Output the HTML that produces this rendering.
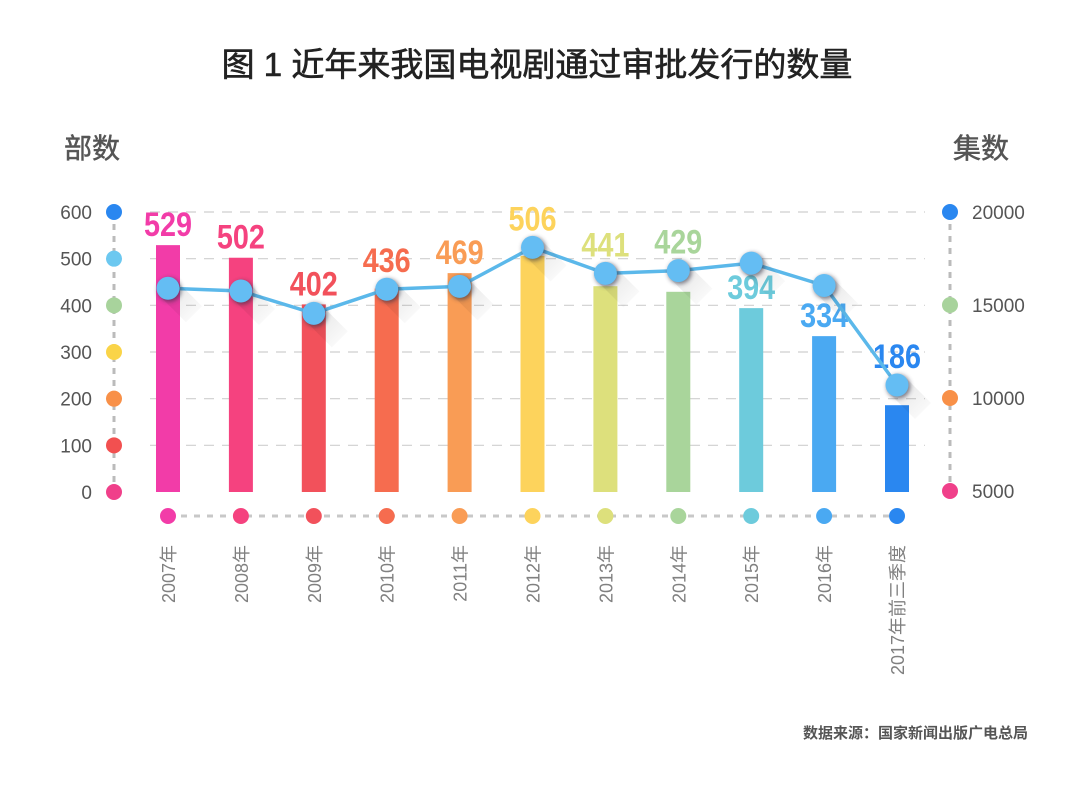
<!DOCTYPE html>
<html><head><meta charset="utf-8">
<style>
html,body{margin:0;padding:0;background:#fff;}
body{width:1080px;height:793px;overflow:hidden;font-family:"Liberation Sans","Noto Sans CJK SC",sans-serif;}
svg text{font-family:"Liberation Sans","Noto Sans CJK SC",sans-serif;}
</style></head>
<body>
<svg id="chart" width="1080" height="793">
<defs>
<filter id="sh" x="-50%" y="-50%" width="250%" height="250%"><feGaussianBlur stdDeviation="2"/></filter>
<linearGradient id="tail" x1="0" y1="0" x2="1" y2="1"><stop offset="0" stop-color="#000" stop-opacity="0.35"/><stop offset="1" stop-color="#000" stop-opacity="0"/></linearGradient>
</defs>
<text x="537" y="76" text-anchor="middle" font-size="33" fill="#222" stroke="#222" stroke-width="0.6">图 1 近年来我国电视剧通过审批发行的数量</text>
<text x="92" y="158" text-anchor="middle" font-size="28" fill="#555" stroke="#555" stroke-width="0.5">部数</text>
<text x="981" y="158" text-anchor="middle" font-size="28" fill="#555" stroke="#555" stroke-width="0.5">集数</text>
<text x="1028" y="738" text-anchor="end" font-size="15" fill="#555" font-weight="bold">数据来源：国家新闻出版广电总局</text>
<g id="g"></g>
</svg>
<script>
const categories=["2007年","2008年","2009年","2010年","2011年","2012年","2013年","2014年","2015年","2016年","2017年前三季度"];
const dramaCounts=[529,502,402,436,469,506,441,429,394,334,186];
const episodeCounts=[15900,15750,14550,15850,16000,18100,16700,16850,17250,16050,10700];
const leftTicks=[0,100,200,300,400,500,600];
const rightTicks=[5000,10000,15000,20000];
const colors=["#f23ca8","#f5427f","#f2515b","#f66c4f","#f99c55","#fdd35c","#dde07c","#a9d59b","#6dcbdc","#4aa9f2","#2a87f0"];
const leftDotColors=["#f0408a","#f25050","#f89048","#fad448","#a8d39c","#6cc8f0","#2a87f0"];
const rightDotColors=["#f0408a","#f89048","#a8d39c","#2a87f0"];
const NS="http://www.w3.org/2000/svg";
const g=document.getElementById('g');
function el(t,a,p){const e=document.createElementNS(NS,t);for(const k in a)e.setAttribute(k,a[k]);(p||g).appendChild(e);return e;}
const x0=168,x1=897;
const xS=i=>x0+i*(x1-x0)/(categories.length-1);
const yL=v=>492-v*(492-212)/600;
const yR=v=>491-(v-5000)*(491-212)/15000;
leftTicks.forEach((t,i)=>{ if(t===0) return;
  const l=el('line',{x1:150,x2:925,y1:yL(t),y2:yL(t),stroke:'#cfcfcf','stroke-width':1.2,'stroke-dasharray':'10 8'});
  
  
});
let la=el('line',{x1:114,x2:114,y1:212,y2:492,stroke:'#bbb','stroke-width':3,'stroke-dasharray':'6 6'});

leftTicks.forEach((t,i)=>{
  const c=el('circle',{cx:114,cy:yL(t),r:8,fill:leftDotColors[i]});
  
  
  const tx=el('text',{x:92,y:yL(t)+7,'text-anchor':'end','font-size':19,fill:'#555'});tx.textContent=t;
  
  
});
let ra=el('line',{x1:950,x2:950,y1:212,y2:491,stroke:'#bbb','stroke-width':3,'stroke-dasharray':'6 6'});

rightTicks.forEach((t,i)=>{
  const y=yR(t);
  const c=el('circle',{cx:950,cy:y,r:8,fill:rightDotColors[i]});
  
  
  const tx=el('text',{x:972,y:y+7,'font-size':19,fill:'#555'});tx.textContent=t;
  
  
});
let bl=el('line',{x1:168,x2:897,y1:516,y2:516,stroke:'#c8c8c8','stroke-width':3,'stroke-dasharray':'6 7'});

const pts=episodeCounts.map((v,i)=>[xS(i),yR(v)]);
categories.forEach((c,i)=>{
  const x=xS(i);
  const top=yL(dramaCounts[i]);
  const b=el('rect',{x:x-12,y:top,width:24,height:492-top,fill:colors[i]});
  
  
  let ly=top-9;
  if(top-pts[i][1]<25) ly=Math.min(ly,pts[i][1]-17);
  const v=el('text',{x:x,y:ly,'text-anchor':'middle','font-size':34,'font-weight':'bold',fill:colors[i],textLength:48,lengthAdjust:'spacingAndGlyphs'});v.textContent=dramaCounts[i];
  
  
  const d=el('circle',{cx:x,cy:516,r:8,fill:colors[i]});
  
  
  const t=el('text',{x:0,y:0,'text-anchor':'end','font-size':18,fill:'#808080',transform:`translate(${x+7},545) rotate(-90)`});t.textContent=c;
  
  
});
const pl=el('polyline',{points:pts.map(p=>p.join(',')).join(' '),fill:'none',stroke:'#5bb8ea','stroke-width':3.5});


pts.forEach(p=>{
  const s=el('polygon',{points:`${p[0]-8},${p[1]+8} ${p[0]+8},${p[1]-8} ${p[0]+34},${p[1]+18} ${p[0]+18},${p[1]+34}`,fill:'url(#tail)',opacity:0.35});
  
  
});
pts.forEach((p,i)=>{
  const c2=el('circle',{cx:p[0]+1.5,cy:p[1]+1.5,r:12,fill:'#334',opacity:0.6,filter:'url(#sh)'});
  
  
  const c=el('circle',{cx:p[0],cy:p[1],r:11.5,fill:'#64bdf3'});
  
  
});
</script>
</body></html>
